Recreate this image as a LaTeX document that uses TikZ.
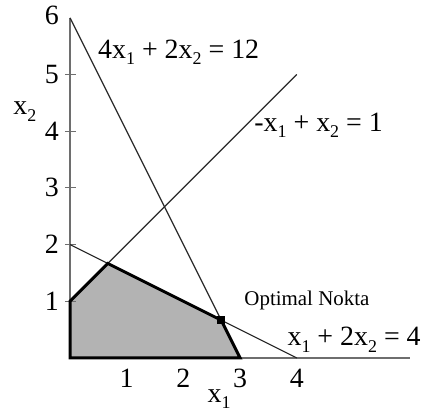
\documentclass[tikz,border=0pt]{standalone}
\usepackage{fontspec}
\setmainfont{Liberation Serif}
\usepackage{tikz}
\usetikzlibrary{positioning,calc}
\definecolor{feasgray}{RGB}{179,179,179}
\definecolor{axiscol}{RGB}{110,110,110}
\definecolor{linecol}{RGB}{40,40,40}
\newcommand{\lowsub}[1]{\raisebox{-0.24em}{\fontsize{9}{9}\selectfont #1}}
\tikzset{
  axisline/.style={line width=0.8pt,axiscol},
  conline/.style={line width=0.6pt,linecol},
  regionedge/.style={line width=1.5pt,black,line join=miter},
  ticklbl/.style={font=\fontsize{14}{16}\selectfont,inner sep=0pt},
  eqlbl/.style={font=\fontsize{14}{16}\selectfont,inner sep=0pt,anchor=base west},
  ptlbl/.style={font=\fontsize{10.5}{12}\selectfont,inner sep=0pt,anchor=base west},
  optmark/.style={rectangle,fill=black,minimum size=4pt,inner sep=0pt},
}

\begin{document}
\begin{tikzpicture}[x=1cm,y=1cm]
  \useasboundingbox (-1.235,-1.005) rectangle (6.226,6.314);
  \coordinate (O) at (0,0);
  \coordinate (A) at (3,0);
  \coordinate (B) at (8/3,2/3);
  \coordinate (C) at (2/3,5/3);
  \coordinate (D) at (0,1);
  \coordinate (xend) at (6,0);
  \coordinate (yend) at (0,6);
  \coordinate (P1) at (0,2);
  \coordinate (P2) at (4,0);
  \coordinate (Q1) at (4,5);
  % feasible region
  \fill[feasgray] (O)--(A)--(B)--(C)--(D)--cycle;
  % axes
  \draw[axisline] (O)--(xend);
  \draw[axisline] (O)--(yend);
  \foreach \k in {1,...,5} {
    \draw[axisline,line width=0.6pt] (-0.09,\k)--(0.1,\k);
    \node[ticklbl] (ylbl\k) at (-0.32,\k) {\k};
  }
  \node[ticklbl] (ylbl6) at (-0.32,6.05) {6};
  \foreach \k in {1,...,4} {
    \node[ticklbl] (xlbl\k) at (\k,-0.36) {\k};
  }
  % constraints
  \draw[conline] (yend)--(A);
  \draw[conline] (P1)--(P2);
  \draw[conline] (D)--(Q1);
  \draw[regionedge] (D)--(O)--(A)--(B)--(C)--cycle;
  \node[optmark] (opt) at (B) {};
  % labels
  \node[eqlbl] (eqA) at (0.49,5.29) {4x\lowsub{1} + 2x\lowsub{2} = 12};
  \node[eqlbl] (eqB) at (3.245,4.0) {-x\lowsub{1} + x\lowsub{2} = 1};
  \node[eqlbl] (eqC) at (3.83,0.22) {x\lowsub{1} + 2x\lowsub{2} = 4};
  \node[ptlbl] (optlbl) at (3.07,0.93) {Optimal Nokta};
  \node[eqlbl] (xtwo) at (-1.005,4.29) {x\lowsub{2}};
  \node[eqlbl] (xone) at (2.42,-0.78) {x\lowsub{1}};
\end{tikzpicture}
\end{document}
